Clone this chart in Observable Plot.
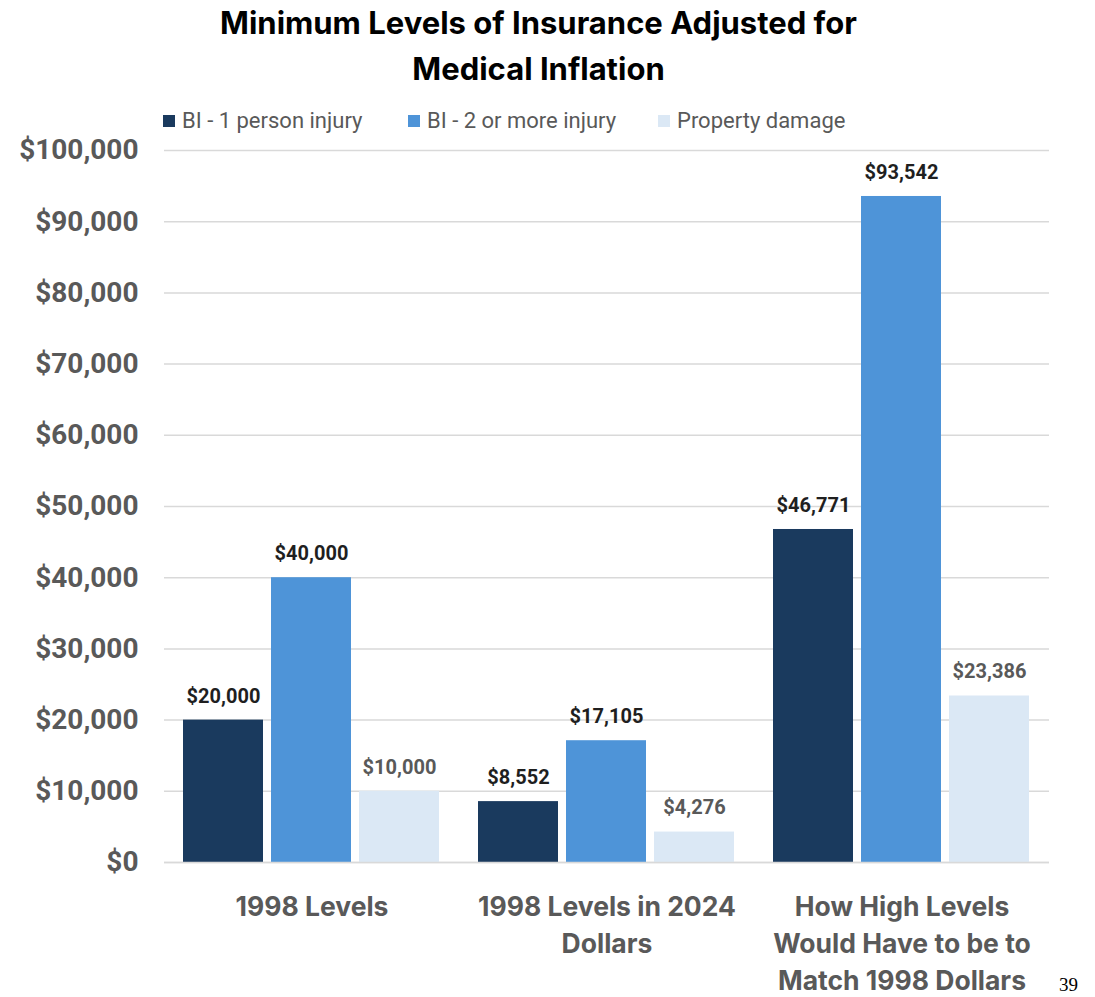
<!DOCTYPE html>
<html>
<head>
<meta charset="utf-8">
<script src="https://cdn.jsdelivr.net/npm/d3@7"></script>
<script src="https://cdn.jsdelivr.net/npm/@observablehq/plot@0.6"></script>
<style>
  html, body { margin: 0; padding: 0; background: #fff; }
  #wrap { position: relative; width: 1095px; height: 997px; overflow: hidden; }
  #title { position: absolute; left: 0; top: 0; width: 1077px; text-align: center;
    font-family: Inter, "DejaVu Sans", sans-serif; font-weight: 700; font-size: 31px;
    line-height: 46px; color: #000; }
  #legend { position: absolute; left: 163px; top: 107px; display: flex;
    font-family: Roboto, sans-serif; font-size: 22px; color: #595959; line-height: 28px; }
  #legend .item { display: flex; align-items: center; }
  #legend .sw { width: 12px; height: 12px; margin-right: 7px; }
  #chart { position: absolute; left: 0; top: 120px; }
  #page { position: absolute; left: 1059px; top: 974px; font-family: "Liberation Serif", serif; font-size: 19px; line-height: 22px; color: #000; }
</style>
</head>
<body>
<div id="wrap">
  <div id="title">Minimum Levels of Insurance Adjusted for<br>Medical Inflation</div>
  <div id="legend"></div>
  <div id="chart"></div>
  <div id="page">39</div>
</div>
<script>
const categories = ["1998 Levels", "1998 Levels in 2024 Dollars", "How High Levels Would Have to be to Match 1998 Dollars"];
const categoryLabels = ["1998 Levels", "1998 Levels in 2024\nDollars", "How High Levels\nWould Have to be to\nMatch 1998 Dollars"];
const series = ["BI - 1 person injury", "BI - 2 or more injury", "Property damage"];
const colors = ["#1a3a5e", "#4e94d8", "#dbe8f5"];
const labelColors = ["#1f1f1f", "#1f1f1f", "#595959"];
const bi1 = [20000, 8552, 46771];
const bi2 = [40000, 17105, 93542];
const propertyDamage = [10000, 4276, 23386];
const yTicks = [0, 10000, 20000, 30000, 40000, 50000, 60000, 70000, 80000, 90000, 100000];

const values = [bi1, bi2, propertyDamage];
const data = [];
categories.forEach((c, i) => {
  series.forEach((s, j) => {
    data.push({category: c, series: s, value: values[j][i], labelColor: labelColors[j]});
  });
});

// legend
const legend = document.getElementById("legend");
const legendWidths = ["245px", "250px", "auto"];
series.forEach((s, j) => {
  const it = document.createElement("div");
  it.className = "item";
  it.style.width = legendWidths[j];
  it.innerHTML = `<span class="sw" style="background:${colors[j]}"></span><span>${s}</span>`;
  legend.appendChild(it);
});

const money = d => "$" + d3.format(",")(d);

const chart = Plot.plot({
  width: 1095,
  height: 877,
  marginLeft: 163,
  marginRight: 45,
  marginTop: 30,
  marginBottom: 135,
  fx: {domain: categories, padding: 0, label: null},
  x: {domain: series, paddingInner: 0.09, paddingOuter: 0.22, axis: null},
  y: {domain: [0, 100000], label: null},
  color: {domain: series, range: colors},
  marks: [
    Plot.gridY(yTicks, {stroke: "#d9d9d9", strokeOpacity: 1, strokeWidth: 1.5}),
    Plot.axisY(yTicks, {
      tickFormat: money, tickSize: 0, tickPadding: 26, label: null,
      fontSize: 28, fontWeight: 700, fill: "#595959", fontFamily: "Roboto, sans-serif"
    }),
    Plot.barY(data, {fx: "category", x: "series", y: "value", fill: "series"}),
    Plot.ruleY([0], {stroke: "#d9d9d9", strokeWidth: 1.5}),
    Plot.text(data, {
      fx: "category", x: "series", y: "value", text: d => money(d.value),
      dy: -24, fontSize: 20, fontWeight: 700, fill: "labelColor", fontFamily: "Roboto, sans-serif"
    }),
    Plot.axisFx({
      anchor: "bottom", tickSize: 0, tickPadding: 27, label: null,
      tickFormat: d => categoryLabels[categories.indexOf(d)],
      fontSize: 26.5, fontWeight: 700, fill: "#595959", lineHeight: 1.4,
      fontFamily: "Inter, sans-serif"
    })
  ]
});
document.getElementById("chart").appendChild(chart);
</script>
</body>
</html>
